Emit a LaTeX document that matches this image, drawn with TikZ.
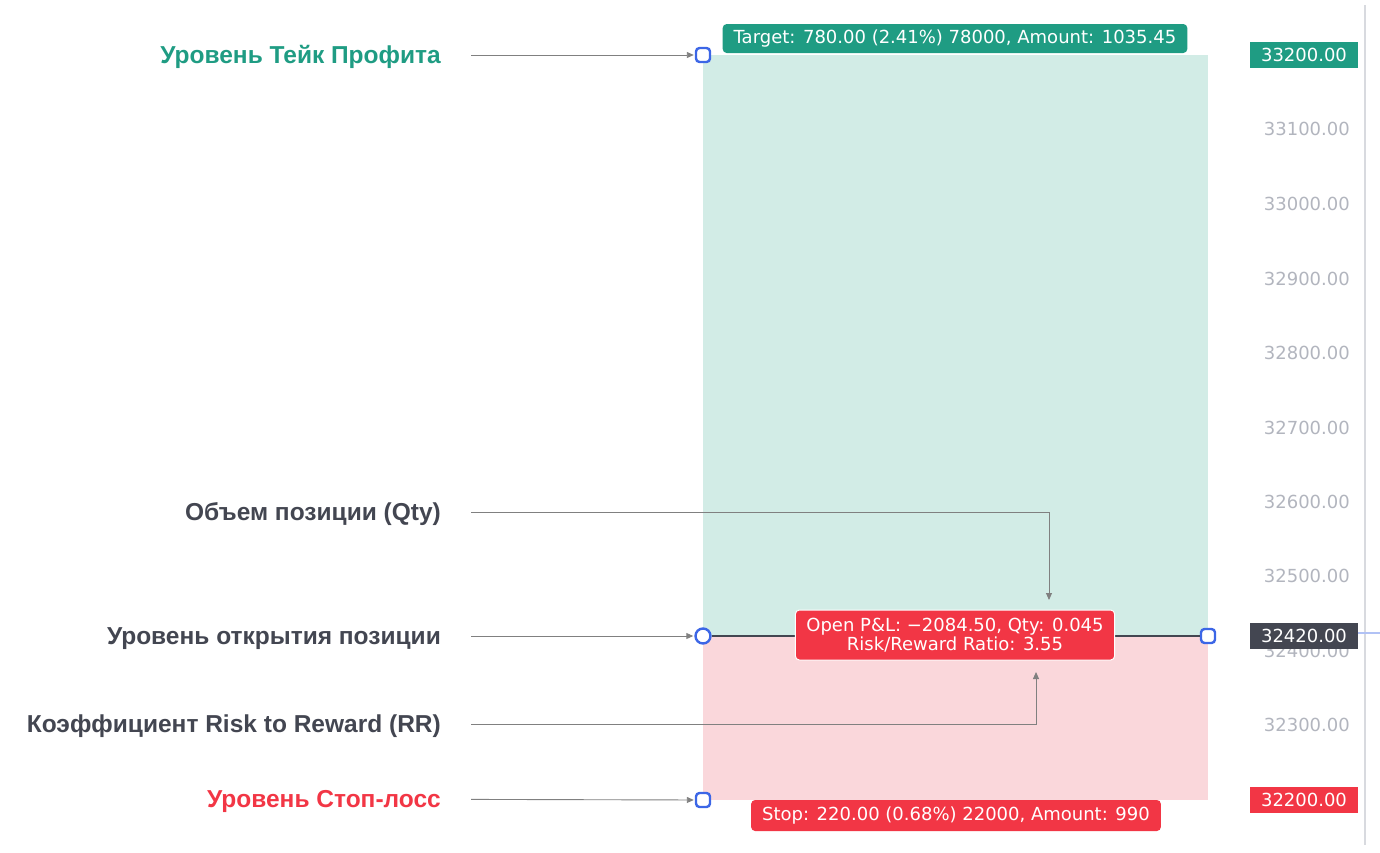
\documentclass[tikz,border=0pt]{standalone}
\usepackage{fontspec}
\setmainfont{Liberation Sans}
\newfontfamily\tagfont{DejaVu Sans}
\usetikzlibrary{positioning,arrows.meta,calc}
\definecolor{tpgreen}{HTML}{1F9C83}
\definecolor{tplight}{HTML}{D2ECE6}
\definecolor{slred}{HTML}{F23645}
\definecolor{sllight}{HTML}{FAD7DB}
\definecolor{ink}{HTML}{434651}
\definecolor{axisgray}{HTML}{B2B5BE}
\definecolor{handleblue}{HTML}{3C66E6}

\begin{document}
\begin{tikzpicture}[
  x=1pt,y=-1pt,
  font=\tagfont\fontsize{18}{22}\selectfont,
  lbl/.style={anchor=east,font=\rmfamily\fontsize{24.5}{28}\selectfont\bfseries,text=ink,text height=17pt,text depth=0pt,inner sep=0pt},
  tag/.style={rounded corners=4pt,text=white,inner xsep=11pt,inner ysep=4pt,align=center},
  handle/.style={draw=handleblue,line width=2.4pt,fill=white,rounded corners=3.5pt,minimum size=14pt,inner sep=0pt},
  hcirc/.style={circle,draw=handleblue,line width=2.4pt,fill=white,minimum size=15pt,inner sep=0pt},
  price/.style={text=axisgray,anchor=east,inner sep=0pt},
  ptag/.style={text=white,minimum width=108pt,minimum height=26pt,inner sep=0pt},
  ar/.style={-{Triangle[length=7pt,width=6pt]},draw=gray,line width=0.9pt,shorten <=30pt,shorten >=1pt}
]
\useasboundingbox (0,0) rectangle (1380,852);
\fill[tplight] (703,55) rectangle (1208,636);
\fill[sllight] (703,636) rectangle (1208,800);
\draw[axisgray!50,line width=1.2pt] (1365,5) -- (1365,845);
\draw[handleblue!40,line width=2pt] (1358,633) -- (1380,633);

\foreach \p/\y in {33100/129,33000/204,32900/279,32800/353,32700/428,32600/502,32500/576,32400/651,32300/725}
  \node[price] at (1350,\y) {\p.00};

\node[ptag,fill=tpgreen] (ptp) at (1304,55) {33200.00};
\node[ptag,fill=ink] (pentry) at (1304,636) {32420.00};
\node[ptag,fill=slred] (psl) at (1304,800) {32200.00};

\node[handle] (tp) at (703,55) {};
\node[hcirc] (entry) at (703,636) {};
\node[handle] (entryr) at (1208,636) {};
\node[handle] (sl) at (703,800) {};
\draw[ink,line width=1.2pt] (entry) -- (entryr);

\node[tag,fill=tpgreen,minimum height=29pt] (target) at (955,38.5) {Target: 780.00 (2.41\%) 78000, Amount: 1035.45};
\node[tag,fill=slred,draw=white,line width=1pt,minimum height=50pt] (pnl) at (955,635) {Open P\&L: −2084.50, Qty: 0.045\\[-3pt]Risk/Reward Ratio: 3.55};
\node[tag,fill=slred,minimum height=31pt] (stop) at (956,815.5) {Stop: 220.00 (0.68\%) 22000, Amount: 990};

\node[lbl,text=tpgreen] (ltp) at (441,55) {Уровень Тейк Профита};
\node[lbl] (lqty) at (441,512) {Объем позиции (Qty)};
\node[lbl] (lentry) at (441,636) {Уровень открытия позиции};
\node[lbl] (lrr) at (441,724) {Коэффициент Risk to Reward (RR)};
\node[lbl,text=slred] (lsl) at (441,799) {Уровень Стоп-лосс};

\coordinate (qtytip) at (1049,601);
\coordinate (rrtip) at (1036,671);
\draw[ar] (ltp) -- (tp);
\draw[ar] (lentry) -- (entry);
\draw[ar] (lsl) -- (sl);
\draw[ar] (lqty) -| (qtytip);
\draw[ar] (lrr) -| (rrtip);
\end{tikzpicture}
\end{document}
